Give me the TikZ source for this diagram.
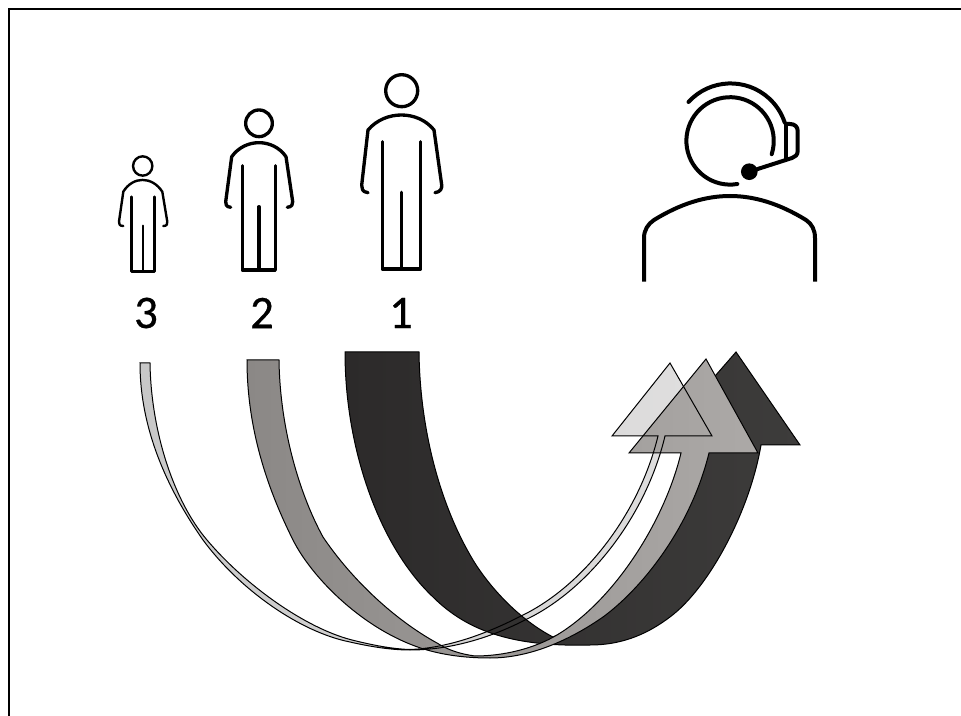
\documentclass[tikz,border=0pt]{standalone}
\usepackage{fontspec}
\setmainfont{Carlito}
\newfontfamily\rankfont[FakeBold=0.6]{Carlito}
\definecolor{darkA}{HTML}{2C2A2A}
\definecolor{darkB}{HTML}{3D3C3B}
\definecolor{grayA}{HTML}{8B8886}
\definecolor{grayB}{HTML}{ACA9A7}
\definecolor{lightA}{HTML}{C8C8C8}
\definecolor{lightB}{HTML}{E0DFDF}
\tikzset{
  figure/.style={line width=2.5pt,line cap=round,line join=round},
  smallfig/.style={line width=1.8pt,line cap=round,line join=round},
  agent/.style={line width=3pt,line join=round},
  edge/.style={line width=0.75pt,draw=black,line join=miter},
  rank/.style={font=\rankfont\fontsize{35}{35}\selectfont,text=black,inner sep=0pt},
}
\newcommand{\darkpath}{(345,352) .. controls (345,450) and (380,547) .. (433,597)
  .. controls (468,632) and (515,647) .. (590,645)
  .. controls (625,645) and (650,632) .. (670,617)
  .. controls (710,587) and (750,510) .. (761,445)
  -- (800,445) -- (736,352) -- (655,445) -- (710,445)
  .. controls (700,500) and (660,565) .. (610,600)
  .. controls (590,615) and (570,630) .. (553,637)
  .. controls (520,620) and (490,588) .. (473,560)
  .. controls (440,505) and (420,430) .. (419,352) -- cycle}
\newcommand{\graypath}{(247,360) .. controls (247,430) and (268,490) .. (293,540)
  .. controls (312,578) and (365,632) .. (427,650)
  .. controls (448,656) and (470,658) .. (490,658)
  .. controls (530,658) and (570,640) .. (603,617)
  .. controls (640,590) and (690,530) .. (709,453)
  -- (758,453) -- (706,359) -- (629,453) -- (681,453)
  .. controls (665,520) and (615,600) .. (557,635)
  .. controls (535,648) and (505,656) .. (475,656)
  .. controls (460,654) and (448,650) .. (437,643)
  .. controls (395,620) and (352,580) .. (323,537)
  .. controls (300,495) and (280,430) .. (279,360) -- cycle}
\newcommand{\lightpath}{(140,363) .. controls (140,430) and (168,490) .. (203,540)
  .. controls (240,590) and (300,632) .. (350,642)
  .. controls (372,647) and (392,650) .. (410,650)
  .. controls (450,650) and (490,638) .. (525,620)
  .. controls (585,592) and (645,520) .. (665,436)
  -- (712,436) -- (670,363) -- (612,436) -- (658,436)
  .. controls (638,518) and (580,588) .. (521,616)
  .. controls (490,632) and (450,648) .. (410,649.5)
  .. controls (392,649) and (372,645) .. (352,640)
  .. controls (305,628) and (245,585) .. (207,540)
  .. controls (173,500) and (151,430) .. (150,363) -- cycle}
\begin{document}
\begin{tikzpicture}[x=0.75pt,y=-0.75pt]
\useasboundingbox (0,0) rectangle (961,716);
\fill[white] (0,0) rectangle (961,716);
\draw[line width=1.5pt] (8.5,716) -- (8.5,9) -- (961,9);

% person 1
\node[circle,draw,figure,minimum size=24pt,inner sep=0pt] (head1) at (401.7,90.7) {};
\draw[figure] (368,192.7) .. controls (362,192) and (361.5,188) .. (361.7,185)
  -- (368,130) .. controls (385,110) and (418,110) .. (434,130)
  -- (441.7,185) .. controls (442,188) and (441,192) .. (435,192.7);
\draw[figure] (382.3,141.7) -- (382.3,269) -- (420.7,269) -- (420.7,141.7);
\draw[figure] (401.7,192.3) -- (401.7,269);
% person 2
\node[circle,draw,figure,minimum size=20pt,inner sep=0pt] (head2) at (259,123.3) {};
\draw[figure] (230.7,207.3) .. controls (226,207) and (225.5,204) .. (225.7,201.7)
  -- (231.7,156.7) .. controls (245,138) and (273,138) .. (286,156.7)
  -- (292.7,201.7) .. controls (293,204) and (292,207) .. (287.3,207.3);
\draw[figure] (242.3,165.7) -- (242.3,270) -- (275.3,270) -- (275.3,165.7);
\draw[figure] (259,206.7) -- (259,270);
% person 3
\node[circle,draw,smallfig,minimum size=14.5pt,inner sep=0pt] (head3) at (142.7,166) {};
\draw[smallfig] (123.3,226) .. controls (119.5,226) and (118.8,224) .. (119,221.7)
  -- (123.3,191.7) .. controls (133,176) and (152,176) .. (162.3,191.7)
  -- (167.3,221.7) .. controls (167.5,224) and (167,226) .. (163.3,226);
\draw[smallfig] (131.3,196.7) -- (131.3,271.7) -- (154.3,271.7) -- (154.3,196.7);
\draw[smallfig] (142.7,225.7) -- (142.7,271.7);

\node[rank] (n3) at (146,313) {3};
\node[rank] (n2) at (262,313) {2};
\node[rank] (n1) at (401,313) {1};

% agent
\draw[agent,line cap=round] (737.3,184) arc (80.5:377.7:43.7);
\draw[agent,line cap=round] (688.5,102) arc (222.4:341.5:57);
\draw[agent] (785.7,122) -- (785.7,160);
\draw[agent,line cap=round] (785.7,124) -- (790,124) .. controls (795,124) and (797.7,127) .. (797.7,131)
  -- (797.7,151) .. controls (797.7,155) and (795,157) .. (792,158) -- (749.3,171.7);
\node[circle,fill=black,minimum size=12.5pt,inner sep=0pt] (mic) at (749.3,171.7) {};
\draw[agent] (644,281.7) -- (644,238) .. controls (644,230) and (648,224) .. (654,220)
  .. controls (680,204) and (705,196) .. (730,196)
  .. controls (755,196) and (780,204) .. (806,220)
  .. controls (812,224) and (815,230) .. (815,238) -- (815,281.7);

% arrows
\shade[left color=lightA,right color=lightB] \lightpath;
\shade[left color=darkA,right color=darkB,edge,draw] \darkpath;
\shade[left color=grayA,right color=grayB,edge,draw] \graypath;
\draw[edge] \lightpath;
\end{tikzpicture}
\end{document}
